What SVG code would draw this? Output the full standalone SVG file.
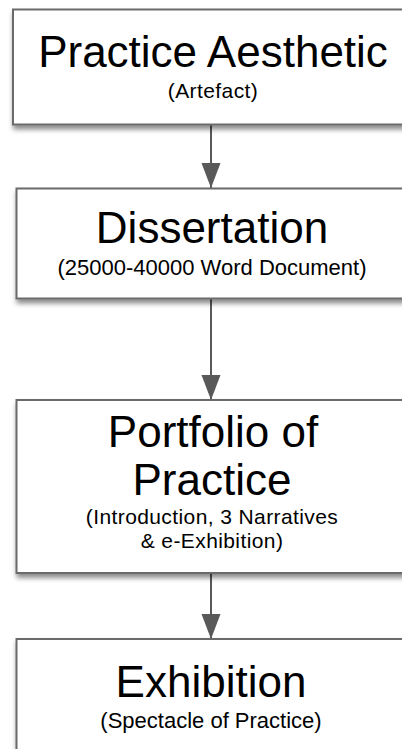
<svg xmlns="http://www.w3.org/2000/svg" width="402" height="749" viewBox="0 0 402 749">
  <style>
    .box { fill: #ffffff; stroke: #6a6a6a; stroke-width: 2; filter: url(#shadow); }
    .title { font-family: "Liberation Sans", Arial, sans-serif; font-size: 44px; fill: #000000; text-anchor: middle; }
    .sub { font-family: "Liberation Sans", Arial, sans-serif; font-size: 22px; fill: #000000; text-anchor: middle; }
    .sub2 { font-family: "Liberation Sans", Arial, sans-serif; font-size: 21px; letter-spacing: 0.4px; fill: #000000; text-anchor: middle; }
    .conn { stroke: #595959; stroke-width: 2; fill: none; marker-end: url(#arrow); }
  </style>
  <defs>
    <filter id="shadow" x="-10%" y="-10%" width="130%" height="130%">
      <feDropShadow dx="1" dy="4" stdDeviation="2.5" flood-color="#000000" flood-opacity="0.45"/>
    </filter>
    <marker id="arrow" markerUnits="userSpaceOnUse" markerWidth="26" markerHeight="20" refX="25" refY="9.5" orient="auto">
      <path d="M0,0 L25,9.5 L0,19 z" fill="#595959"/>
    </marker>
  </defs>
  <rect width="402" height="749" fill="#ffffff"/>
  <g id="connectors">
    <line class="conn" x1="211" y1="125" x2="211" y2="188"/>
    <line class="conn" x1="211" y1="299" x2="211" y2="400"/>
    <line class="conn" x1="211" y1="574" x2="211" y2="639"/>
  </g>
  <g id="node-practice-aesthetic">
    <rect class="box" x="13" y="9.5" width="410" height="115"/>
    <text class="title" x="213" y="67">Practice Aesthetic</text>
    <text class="sub" x="213" y="98" style="font-size:21px;letter-spacing:0.4px">(Artefact)</text>
  </g>
  <g id="node-dissertation">
    <rect class="box" x="16.5" y="188.5" width="410" height="110"/>
    <text class="title" x="212" y="243">Dissertation</text>
    <text class="sub" x="212" y="275">(25000-40000 Word Document)</text>
  </g>
  <g id="node-portfolio">
    <rect class="box" x="16.5" y="400" width="410" height="173"/>
    <text class="title" x="213" y="447">Portfolio of</text>
    <text class="title" x="212" y="495">Practice</text>
    <text class="sub2" x="212" y="524">(Introduction, 3 Narratives</text>
    <text class="sub2" x="212" y="548">&amp; e-Exhibition)</text>
  </g>
  <g id="node-exhibition">
    <rect class="box" x="16.5" y="639" width="410" height="140"/>
    <text class="title" x="211" y="697">Exhibition</text>
    <text class="sub" x="211" y="728">(Spectacle of Practice)</text>
  </g>
</svg>
